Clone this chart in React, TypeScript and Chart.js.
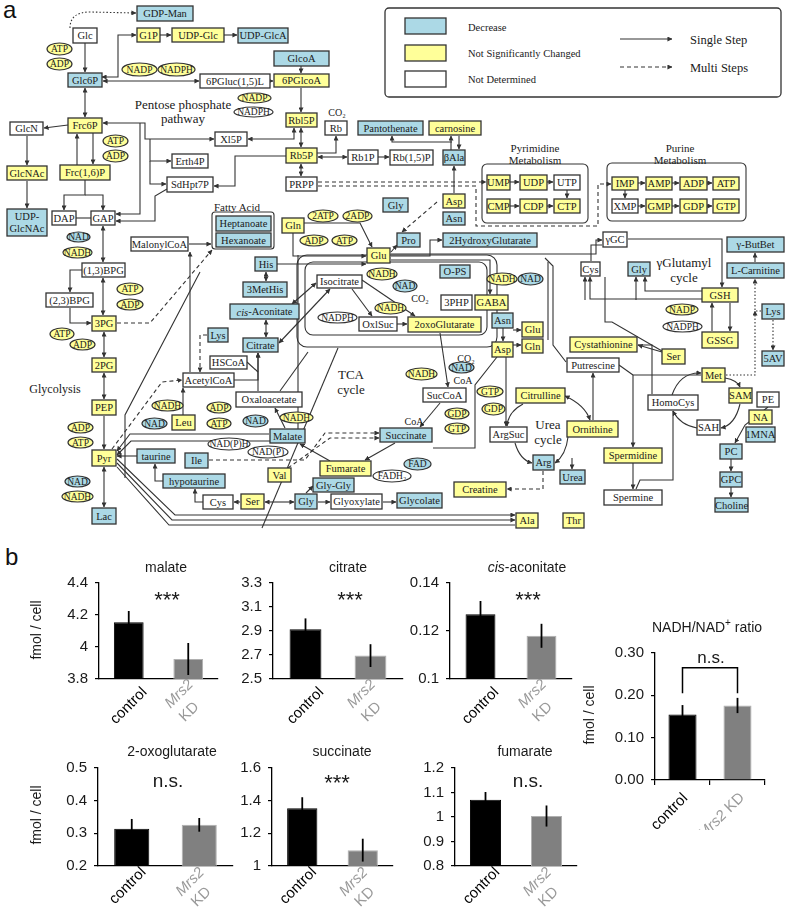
import React, { useEffect, useRef } from "react";
import { Chart, registerables } from "chart.js";
Chart.register(...registerables);

// ---------------- data (part b) ----------------
const GROUPS = ["control", "Mrs2 KD"];
const MALATE = [4.155, 3.925];
const MALATE_ERR = [0.07, 0.1];
const CITRATE = [2.915, 2.695];
const CITRATE_ERR = [0.09, 0.095];
const CIS_ACONITATE = [0.127, 0.118];
const CIS_ACONITATE_ERR = [0.0055, 0.005];
const OXOGLUTARATE = [0.314, 0.326];
const OXOGLUTARATE_ERR = [0.03, 0.021];
const SUCCINATE = [1.353, 1.097];
const SUCCINATE_ERR = [0.068, 0.07];
const FUMARATE = [1.07, 1.004];
const FUMARATE_ERR = [0.032, 0.043];
const NADH_RATIO = [0.155, 0.176];
const NADH_RATIO_ERR = [0.022, 0.018];
const Y_TITLE = "fmol / cell";

const SANS = '"Liberation Sans", Arial, Helvetica, sans-serif';
const SERIF = '"Liberation Serif", "Times New Roman", serif';

type Part = { t: string; i?: boolean; sup?: boolean };

function drawParts(ctx: CanvasRenderingContext2D, parts: Part[], x: number, y: number, size: number, color: string) {
  const fontOf = (p: Part) => `${p.i ? "italic " : ""}${p.sup ? Math.round(size * 0.7) : size}px ${SANS}`;
  let total = 0;
  const ws = parts.map((p) => {
    ctx.font = fontOf(p);
    const w = ctx.measureText(p.t).width;
    total += w;
    return w;
  });
  let cx = x - total / 2;
  ctx.textAlign = "left";
  ctx.textBaseline = "middle";
  ctx.fillStyle = color;
  parts.forEach((p, k) => {
    ctx.font = fontOf(p);
    ctx.fillText(p.t, cx, p.sup ? y - size * 0.35 : y);
    cx += ws[k];
  });
}

function drawRot(ctx: CanvasRenderingContext2D, parts: Part[], x: number, y: number, size: number, color: string, ang: number) {
  ctx.save();
  ctx.translate(x, y);
  ctx.rotate(ang);
  drawParts(ctx, parts, 0, 0, size, color);
  ctx.restore();
}

type LabelPos = { ctrl: [number, number]; l1: [number, number]; l2?: [number, number] };
const ROW1: LabelPos = { ctrl: [0, 27], l1: [-9, 15], l2: [1, 33] };
const ROW2: LabelPos = { ctrl: [-4, 20], l1: [-9, 16], l2: [2, 31] };
const ONELINE: LabelPos = { ctrl: [-13, 32], l1: [-16, 36] };

interface PanelCfg {
  values: number[];
  errors: number[];
  min: number;
  max: number;
  step: number;
  fixed?: number;
  x0: number;
  x1: number;
  y0: number;
  y1: number;
  title: Part[];
  tx: number;
  ty: number;
  sig: string;
  sx: number;
  sb: number;
  sSize: number;
  yTitle?: [number, number];
  bracket?: [number, number];
  xTicks?: boolean;
  lab: LabelPos;
  bottom: number;
  bar: number;
}

const PANELS: PanelCfg[] = [
  { values: MALATE, errors: MALATE_ERR, min: 3.8, max: 4.4, step: 0.2, x0: 99, x1: 218, y0: 583, y1: 679,
    title: [{ t: "malate" }], tx: 166, ty: 568, sig: "***", sx: 167, sb: 607, sSize: 22, yTitle: [37, 630], lab: ROW1, bottom: 50, bar: 0.5 },
  { values: CITRATE, errors: CITRATE_ERR, min: 2.5, max: 3.3, step: 0.2, x0: 273, x1: 403, y0: 583, y1: 679,
    title: [{ t: "citrate" }], tx: 348, ty: 568, sig: "***", sx: 350, sb: 607, sSize: 22, lab: ROW1, bottom: 50, bar: 0.49 },
  { values: CIS_ACONITATE, errors: CIS_ACONITATE_ERR, min: 0.1, max: 0.14, step: 0.02, x0: 450, x1: 572, y0: 583, y1: 679,
    title: [{ t: "cis", i: true }, { t: "-aconitate" }], tx: 527, ty: 568, sig: "***", sx: 528, sb: 607, sSize: 22, lab: ROW1, bottom: 50, bar: 0.49 },
  { values: NADH_RATIO, errors: NADH_RATIO_ERR, min: 0, max: 0.3, step: 0.1, fixed: 2, x0: 655, x1: 765, y0: 653, y1: 780,
    title: [{ t: "NADH/NAD" }, { t: "+", sup: true }, { t: " ratio" }], tx: 707, ty: 628, sig: "n.s.", sx: 711, sb: 663, sSize: 17,
    yTitle: [590, 715], bracket: [0.265, 0.205], xTicks: true, lab: ONELINE, bottom: 50, bar: 0.51 },
  { values: OXOGLUTARATE, errors: OXOGLUTARATE_ERR, min: 0.2, max: 0.5, step: 0.1, x0: 98, x1: 233, y0: 768, y1: 866,
    title: [{ t: "2-oxoglutarate" }], tx: 172, ty: 752, sig: "n.s.", sx: 168, sb: 787, sSize: 19, yTitle: [37, 815], lab: ROW2, bottom: 45, bar: 0.52 },
  { values: SUCCINATE, errors: SUCCINATE_ERR, min: 1, max: 1.6, step: 0.2, x0: 272, x1: 393, y0: 768, y1: 866,
    title: [{ t: "succinate" }], tx: 342, ty: 752, sig: "***", sx: 337, sb: 790, sSize: 22, lab: ROW2, bottom: 45, bar: 0.5 },
  { values: FUMARATE, errors: FUMARATE_ERR, min: 0.8, max: 1.2, step: 0.1, x0: 455, x1: 577, y0: 768, y1: 866,
    title: [{ t: "fumarate" }], tx: 525, ty: 752, sig: "n.s.", sx: 528, sb: 787, sSize: 19, lab: ROW2, bottom: 45, bar: 0.51 },
];

const PAD_TOP = 40;
const Y_W = 80;
const PAD_R = 15;

function BarPanel({ cfg }: { cfg: PanelCfg }) {
  const ref = useRef<HTMLCanvasElement>(null);
  const ox = cfg.x0 - Y_W;
  const oy = cfg.y0 - PAD_TOP;
  const cw = cfg.x1 - ox + PAD_R;
  const ch = PAD_TOP + (cfg.y1 - cfg.y0) + cfg.bottom;
  useEffect(() => {
    const overlay = {
      id: "overlay",
      afterDatasetsDraw(chart: any) {
        const ctx = chart.ctx as CanvasRenderingContext2D;
        const xs = chart.scales.x;
        const ys = chart.scales.y;
        ctx.save();
        ctx.strokeStyle = "#000";
        ctx.lineWidth = 1.8;
        cfg.values.forEach((v, i) => {
          const x = xs.getPixelForValue(i);
          ctx.beginPath();
          ctx.moveTo(x, ys.getPixelForValue(v + cfg.errors[i]));
          ctx.lineTo(x, ys.getPixelForValue(v - cfg.errors[i]));
          ctx.stroke();
        });
        ctx.restore();
      },
      afterDraw(chart: any) {
        const ctx = chart.ctx as CanvasRenderingContext2D;
        const xs = chart.scales.x;
        const ys = chart.scales.y;
        ctx.save();
        drawParts(ctx, cfg.title, cfg.tx - ox, cfg.ty - oy, 14, "#1a1a1a");
        ctx.font = `${cfg.sSize}px ${SANS}`;
        ctx.textAlign = "center";
        ctx.textBaseline = "alphabetic";
        ctx.fillStyle = "#1a1a1a";
        ctx.fillText(cfg.sig, cfg.sx - ox, cfg.sb - oy);
        if (cfg.yTitle) {
          drawRot(ctx, [{ t: Y_TITLE }], cfg.yTitle[0] - ox, cfg.yTitle[1] - oy, 14, "#1a1a1a", -Math.PI / 2);
        }
        if (cfg.bracket) {
          const xa = xs.getPixelForValue(0);
          const xb = xs.getPixelForValue(1);
          const yt = ys.getPixelForValue(cfg.bracket[0]);
          const yl = ys.getPixelForValue(cfg.bracket[1]);
          ctx.strokeStyle = "#000";
          ctx.lineWidth = 1.5;
          ctx.beginPath();
          ctx.moveTo(xa, yl);
          ctx.lineTo(xa, yt);
          ctx.lineTo(xb, yt);
          ctx.lineTo(xb, yl);
          ctx.stroke();
        }
        const base = chart.chartArea.bottom;
        const c0 = xs.getPixelForValue(0);
        const c1 = xs.getPixelForValue(1);
        const ang = -Math.PI / 4;
        drawRot(ctx, [{ t: GROUPS[0] }], c0 + cfg.lab.ctrl[0], base + cfg.lab.ctrl[1], 15, "#000", ang);
        if (cfg.lab.l2) {
          drawRot(ctx, [{ t: "Mrs2", i: true }], c1 + cfg.lab.l1[0], base + cfg.lab.l1[1], 15, "#9a9a9a", ang);
          drawRot(ctx, [{ t: "KD" }], c1 + cfg.lab.l2[0], base + cfg.lab.l2[1], 15, "#9a9a9a", ang);
        } else {
          drawRot(ctx, [{ t: "Mrs2", i: true }, { t: " KD" }], c1 + cfg.lab.l1[0], base + cfg.lab.l1[1], 15, "#9a9a9a", ang);
        }
        ctx.restore();
      },
    };
    const chart = new Chart(ref.current as HTMLCanvasElement, {
      type: "bar",
      data: {
        labels: GROUPS,
        datasets: [
          {
            data: cfg.values,
            backgroundColor: ["#000000", "#808080"],
            borderColor: ["#000000", "#b0b0b0"],
            borderWidth: 1,
            barPercentage: cfg.bar,
            categoryPercentage: 1,
          },
        ],
      },
      options: {
        animation: false,
        responsive: false,
        maintainAspectRatio: false,
        layout: { padding: { top: PAD_TOP, right: PAD_R, bottom: 0, left: 0 } },
        plugins: { legend: { display: false }, tooltip: { enabled: false }, title: { display: false } },
        scales: {
          x: {
            type: "category",
            offset: true,
            grid: { display: !!cfg.xTicks, drawOnChartArea: false, tickLength: 5, color: "#000", offset: true, lineWidth: 1.2 },
            border: { display: true, color: "#000", width: 1.3 },
            ticks: { display: false },
            afterFit: (s: any) => {
              s.height = cfg.bottom;
            },
          },
          y: {
            min: cfg.min,
            max: cfg.max,
            grid: { display: true, drawOnChartArea: false, tickLength: 4, color: "#000", lineWidth: 1.2 },
            border: { display: true, color: "#000", width: 1.3 },
            ticks: {
              stepSize: cfg.step,
              padding: 7,
              color: "#1a1a1a",
              font: { family: SANS, size: 15 },
              callback: (v: any) => (cfg.fixed ? Number(v).toFixed(cfg.fixed) : String(parseFloat(Number(v).toFixed(4)))),
            },
            afterFit: (s: any) => {
              s.width = Y_W;
            },
          },
        },
      } as any,
      plugins: [overlay as any],
    });
    return () => chart.destroy();
  }, []);
  return (
    <canvas
      ref={ref}
      width={cw}
      height={ch}
      style={{ position: "absolute", left: ox, top: oy, width: cw, height: ch }}
    />
  );
}

// ---------------- pathway diagram (part a) ----------------
const BLUE = "#acd9e6";
const YEL = "#ffff99";
type N = [string, string, number, number, number, number];
const NODES: N[] = [
  ["GDP-Man", "b", 137, 6, 193, 21], ["Glc", "w", 73, 28, 97, 43], ["G1P", "y", 137, 28, 160, 42],
  ["UDP-Glc", "y", 172, 28, 224, 42], ["UDP-GlcA", "b", 238, 28, 288, 43], ["Glc6P", "b", 68, 73, 102, 87],
  ["6PGluc(1,5)L", "w", 200, 74, 270, 88], ["GlcoA", "b", 274, 51, 329, 66], ["6PGlcoA", "y", 274, 74, 329, 87],
  ["Rbl5P", "y", 286, 113, 317, 127], ["Rb", "w", 325, 121, 347, 135], ["Xl5P", "w", 215, 132, 247, 146],
  ["Rb5P", "y", 286, 148, 317, 163], ["Rb1P", "w", 348, 150, 378, 164], ["Rb(1,5)P", "w", 390, 150, 433, 165],
  ["Pantothenate", "b", 358, 121, 423, 135], ["carnosine", "y", 429, 121, 481, 135], ["βAla", "b", 443, 150, 465, 165],
  ["PRPP", "w", 286, 177, 317, 191], ["Erth4P", "w", 172, 154, 208, 168], ["SdHpt7P", "w", 167, 177, 213, 192],
  ["GlcN", "w", 10, 122, 43, 135], ["Frc6P", "y", 68, 118, 102, 133], ["Frc(1,6)P", "y", 60, 165, 110, 180],
  ["GlcNAc", "y", 7, 166, 47, 180], ["UDP-\nGlcNAc", "b", 7, 209, 47, 236], ["DAP", "w", 52, 211, 76, 225],
  ["GAP", "w", 91, 211, 115, 225], ["(1,3)BPG", "w", 82, 263, 125, 277], ["MalonylCoA", "w", 131, 237, 188, 251],
  ["Heptanoate", "b", 216, 216, 271, 231], ["Hexanoate", "b", 216, 233, 271, 247], ["Gln", "y", 282, 218, 304, 233],
  ["Glu", "y", 367, 248, 390, 263], ["His", "b", 255, 257, 277, 271], ["Isocitrate", "w", 317, 275, 362, 288],
  ["UMP", "y", 487, 175, 510, 190], ["UDP", "y", 520, 175, 547, 190], ["UTP", "w", 554, 175, 580, 190],
  ["CMP", "y", 487, 199, 510, 213], ["CDP", "y", 520, 199, 547, 213], ["CTP", "y", 554, 199, 580, 213],
  ["Gly", "b", 383, 198, 408, 212], ["Asp", "y", 443, 194, 465, 208], ["Asn", "b", 443, 212, 465, 225],
  ["Pro", "b", 397, 233, 420, 247], ["2HydroxyGlutarate", "b", 443, 233, 537, 247], ["O-PS", "b", 440, 265, 470, 278],
  ["γGC", "w", 603, 232, 627, 247],
  ["IMP", "y", 612, 177, 638, 190], ["AMP", "y", 646, 177, 672, 190], ["ADP", "y", 680, 177, 707, 190], ["ATP", "y", 713, 177, 739, 190],
  ["XMP", "w", 612, 199, 638, 213], ["GMP", "y", 646, 199, 672, 213], ["GDP", "y", 680, 199, 707, 213], ["GTP", "y", 713, 199, 739, 213],
  ["γ-ButBet", "b", 727, 237, 784, 252], ["L-Carnitine", "b", 727, 263, 784, 278], ["Gly", "b", 628, 262, 650, 276],
  ["Cys", "w", 581, 262, 600, 276], ["(2,3)BPG", "w", 46, 293, 93, 307], ["3PG", "y", 92, 316, 116, 331],
  ["2PG", "y", 92, 358, 116, 372], ["PEP", "y", 92, 400, 116, 415], ["Pyr", "y", 92, 450, 116, 466],
  ["Lac", "b", 92, 508, 116, 524], ["AcetylCoA", "w", 183, 373, 234, 387], ["Leu", "y", 172, 415, 195, 430],
  ["taurine", "b", 137, 449, 175, 463], ["hypotaurine", "b", 163, 474, 225, 488], ["Ile", "b", 185, 453, 208, 468],
  ["3MetHis", "b", 243, 282, 287, 297], ["cis-Aconitate", "b", 230, 304, 299, 319], ["Citrate", "b", 243, 338, 278, 352],
  ["Lys", "b", 208, 328, 228, 342], ["HSCoA", "w", 210, 356, 247, 369], ["Oxaloacetate", "w", 236, 392, 302, 407],
  ["Malate", "b", 270, 429, 305, 443], ["OxlSuc", "w", 359, 317, 397, 331], ["Val", "y", 268, 468, 291, 482],
  ["Fumarate", "y", 320, 461, 371, 476], ["Gly-Gly", "b", 313, 478, 354, 492], ["Gly", "b", 295, 494, 317, 509],
  ["Glyoxylate", "w", 331, 494, 382, 509], ["Ser", "y", 241, 494, 264, 509], ["Cys", "w", 203, 495, 233, 509],
  ["Succinate", "b", 380, 428, 432, 442], ["2oxoGlutarate", "y", 408, 317, 481, 332], ["3PHP", "w", 441, 295, 472, 310],
  ["GABA", "y", 475, 295, 508, 310], ["Asn", "b", 492, 313, 513, 328], ["Glu", "y", 522, 322, 543, 337],
  ["Gln", "y", 522, 339, 543, 353], ["Asp", "y", 492, 342, 513, 357], ["SucCoA", "w", 423, 388, 466, 402],
  ["Citrulline", "y", 516, 388, 565, 403], ["ArgSuc", "w", 490, 427, 527, 442], ["Arg", "b", 533, 455, 554, 470],
  ["Urea", "b", 560, 470, 585, 484], ["Creatine", "y", 454, 482, 506, 497], ["Glycolate", "b", 397, 493, 442, 508],
  ["Ala", "y", 516, 513, 538, 528], ["Thr", "y", 563, 513, 584, 528], ["Ornithine", "y", 567, 421, 618, 437],
  ["Cystathionine", "y", 570, 337, 637, 352], ["Putrescine", "w", 567, 358, 619, 372], ["GSH", "y", 702, 288, 738, 302],
  ["GSSG", "y", 702, 332, 738, 348], ["Lys", "b", 762, 304, 784, 319], ["5AV", "b", 762, 351, 784, 366],
  ["Ser", "y", 662, 349, 685, 364], ["Met", "y", 702, 368, 725, 382], ["SAM", "y", 729, 388, 752, 403],
  ["PE", "w", 757, 392, 779, 407], ["NA", "y", 749, 410, 772, 424], ["1MNA", "b", 746, 427, 775, 442],
  ["HomoCys", "w", 648, 395, 698, 410], ["SAH", "w", 697, 420, 720, 435], ["PC", "b", 720, 444, 742, 459],
  ["GPC", "b", 720, 472, 742, 487], ["Choline", "b", 715, 498, 748, 512], ["Spermidine", "y", 604, 448, 662, 463],
  ["Spermine", "w", 604, 490, 662, 505],
  // cofactors (ellipses)
  ["ATP", "Y", 47, 43, 72, 55], ["ADP", "Y", 47, 58, 72, 70], ["NADP", "Y", 122, 63, 157, 76], ["NADPH", "Y", 158, 63, 195, 76],
  ["NADP", "Y", 238, 93, 271, 103], ["NADPH", "W", 234, 107, 273, 117], ["ATP", "Y", 103, 135, 128, 147], ["ADP", "Y", 103, 150, 128, 162],
  ["NAD", "B", 67, 232, 90, 242], ["NADH", "Y", 63, 247, 92, 258], ["2ATP", "Y", 308, 210, 338, 222], ["2ADP", "Y", 343, 210, 372, 222],
  ["ADP", "Y", 300, 235, 328, 246], ["ATP", "Y", 332, 235, 357, 246], ["NADH", "Y", 487, 273, 517, 285], ["NAD", "B", 518, 273, 543, 285],
  ["ATP", "Y", 117, 283, 143, 295], ["ADP", "Y", 117, 299, 143, 310], ["ATP", "Y", 50, 328, 74, 340], ["ADP", "Y", 70, 339, 95, 350],
  ["ADP", "Y", 68, 422, 93, 433], ["ATP", "Y", 68, 437, 93, 448], ["NAD", "B", 65, 476, 90, 487], ["NADH", "Y", 62, 491, 93, 502],
  ["NADH", "Y", 152, 400, 183, 411], ["NAD", "B", 142, 418, 167, 429], ["ADP", "Y", 207, 402, 231, 413], ["ATP", "Y", 207, 418, 231, 429],
  ["NAD", "B", 243, 415, 268, 427], ["NADH", "Y", 280, 412, 313, 423], ["NAD(P)H", "W", 208, 438, 250, 450], ["NAD(P)", "W", 248, 446, 288, 458],
  ["NADPH", "W", 318, 312, 357, 323], ["NADH", "Y", 367, 268, 397, 280], ["NAD", "B", 393, 280, 417, 292], ["NADH", "Y", 375, 302, 406, 314],
  ["NAD", "B", 449, 362, 474, 373], ["NADH", "Y", 406, 368, 437, 380], ["GDP", "Y", 445, 408, 469, 419], ["GTP", "Y", 445, 423, 469, 434],
  ["GTP", "Y", 477, 386, 503, 397], ["GDP", "Y", 482, 403, 505, 415], ["FAD", "B", 404, 458, 431, 470], ["FADH₂", "W", 373, 470, 411, 482],
  ["NADP", "Y", 666, 304, 698, 315], ["NADPH", "W", 663, 321, 702, 332],
];

// [geometry, style]  s: arrow, d: double arrow, n: plain, D: dashed arrow, o: dotted arrow
type E = [string, string];
const EDGES: E[] = [
  ["85,43 85,72", "s"], ["85,88 85,117", "d"], ["93,133 93,164", "s"], ["77,165 77,134", "s"],
  ["85,180 85,195 64,195 64,210", "s"], ["85,195 103,195 103,210", "s"], ["76,218 91,218", "n"],
  ["103,226 103,262", "d"], ["103,278 103,315", "d"], ["82,270 70,270 70,292", "s"], ["70,308 70,323 91,323", "s"],
  ["104,332 104,357", "d"], ["104,373 104,399", "d"], ["104,416 104,449", "s"], ["104,467 104,507", "d"],
  ["102,77 118,77 118,35 136,35", "d"], ["160,35 171,35", "s"], ["224,35 237,35", "s"], ["103,81 199,81", "d"],
  ["270,81 273,81", "s"], ["301,66 301,73", "s"], ["301,88 301,112", "s"], ["301,128 301,147", "d"], ["301,164 301,176", "d"],
  ["317,153 336,153 336,136", "s"], ["318,157 347,157", "d"], ["378,157 389,157", "s"], ["248,139 294,139 294,128", "d"],
  ["103,123 145,123 145,139 214,139", "d"], ["150,139 150,161 171,161", "s"], ["150,161 150,184 166,184", "s"],
  ["286,156 235,156 235,186 214,186", "s"], ["140,123 140,214 116,214", "s"], ["167,189 155,196 155,221 116,221", "s"],
  ["68,125 44,128", "s"], ["27,136 27,165", "s"], ["27,181 27,208", "s"],
  ["318,182 486,182", "D"], ["318,186 476,186 476,226 598,226 598,184 611,184", "D"],
  ["454,193 454,166", "s"], ["451,150 451,136", "s"], ["459,136 459,149", "s"], ["452,142 392,142 392,136", "s"],
  ["510,182 519,182", "s"], ["547,182 553,182", "s"], ["567,190 567,198", "s"], ["510,206 519,206", "s"], ["547,206 553,206", "s"],
  ["638,183 645,183", "s"], ["672,183 679,183", "s"], ["707,183 712,183", "s"], ["625,190 625,198", "s"],
  ["638,206 645,206", "s"], ["672,206 679,206", "s"], ["707,206 712,206", "s"],
  ["755,262 755,253", "s"], ["761,311 755,311 755,279", "o"], ["773,320 773,350", "o"], ["726,375 755,375 755,311", "o"],
  ["712,331 712,303", "s"], ["730,303 730,331", "s"],
  ["M672,395 Q680,372 701,373", "s"], ["M725,378 Q737,380 740,387", "s"], ["M740,404 Q735,425 721,428", "s"], ["M697,428 Q680,425 673,411", "s"],
  ["768,407 745,425 735,443", "s"], ["731,459 731,471", "s"], ["731,487 731,497", "s"],
  ["701,375 633,375 633,447", "s"], ["619,365 633,375", "n"], ["633,463 633,489", "s"], ["673,411 673,480 640,480 636,489", "n"],
  ["593,420 593,373", "s"], ["662,352 638,345", "s"], ["652,394 652,345 638,345", "n"],
  ["M523,404 Q508,412 507,426", "s"], ["M515,443 Q520,460 532,463", "s"], ["M568,437 Q566,455 555,463", "s"], ["M565,396 Q585,405 590,420", "d"],
  ["572,458 572,469", "s"], ["543,471 543,489 507,489", "D"], ["506,357 506,426", "s"], ["503,328 503,341", "s"],
  ["497,357 475,385 475,448 433,448", "n"], ["513,330 521,330", "s"], ["513,345 521,345", "s"],
  ["234,380 258,380 258,353", "s"], ["258,391 258,353", "s"], ["266,337 266,320", "d"], ["292,304 316,283", "d"],
  ["279,343 330,289", "d"], ["352,289 372,316", "s"], ["397,324 407,324", "s"], ["362,280 415,316", "s"],
  ["440,333 448,387", "s"], ["440,403 420,427", "s"], ["395,443 365,460", "s"], ["330,461 300,444", "s"],
  ["285,428 275,408", "s"], ["247,362 258,372", "n"],
  ["304,223 360,223 372,247", "s"], ["293,233 293,256 366,256", "s"], ["277,264 366,264", "s"], ["266,272 266,281", "d"],
  ["391,252 397,245", "s"], ["391,256 430,256 430,240 442,240", "s"], ["391,260 490,260 490,294", "s"],
  ["391,254 596,254 596,240 602,240", "s"], ["628,239 722,239 722,287", "s"], ["591,261 591,245 602,245", "n"],
  ["702,291 645,291 645,277", "s"], ["702,299 590,299 590,277", "s"], ["636,300 636,277", "s"], ["585,300 585,277", "s"],
  ["662,351 612,322 605,322 605,277", "n"], ["545,258 553,266 553,345 566,362", "n"], ["548,262 548,340", "n"],
  ["190,372 190,252", "s"], ["189,244 211,244", "s"], ["183,415 183,388", "s"], ["207,335 200,335 200,372", "D"],
  ["117,323 150,323 212,250", "D"], ["112,449 162,382 182,380", "D"],
  ["137,456 117,456", "s"], ["163,481 155,481 155,464", "s"], ["203,502 195,502 195,489", "s"], ["240,502 234,502", "s"],
  ["265,502 294,502", "d"], ["306,493 313,486", "s"], ["318,502 330,502", "s"], ["383,502 396,502", "s"],
  ["209,460 305,460 325,433 379,433", "D"], ["288,468 330,438 379,438", "D"],
  ["269,434 130,434 117,451", "s"], ["298,255 298,441 131,441 117,455", "s"],
  ["117,459 175,515 515,515", "s"], ["117,463 172,520 515,520", "s"], ["117,467 169,525 515,525", "n"],
  ["125,478 125,415 200,272", "n"], ["262,528 338,348", "n"], ["280,391 308,352", "n"],
  ["437,202 402,232", "D"], ["M70,28 Q70,12 90,12 L136,13", "o"],
  ["620,39 672,39", "s"], ["620,67 672,67", "D"],
];

const TEXTS: [string, number, number, number, string?][] = [
  ["Pentose phosphate", 183, 104, 13], ["pathway", 183, 118, 13], ["Fatty Acid", 237, 207, 11],
  ["Pyrimidine", 535, 148, 11], ["Metabolism", 535, 160, 11], ["Purine", 680, 148, 11], ["Metabolism", 680, 160, 11],
  ["Glycolysis", 55, 389, 12], ["TCA", 351, 374, 13], ["cycle", 351, 389, 13], ["Urea", 548, 424, 13], ["cycle", 548, 439, 13],
  ["γGlutamyl", 684, 262, 13], ["cycle", 684, 277, 13], ["CO₂", 337, 112, 10], ["CO₂", 420, 298, 10], ["CO₂", 466, 358, 10],
  ["CoA", 463, 380, 10], ["CoA", 414, 421, 10],
  ["Decrease", 468, 27, 10.5, "start"], ["Not Significantly Changed", 468, 53, 10.5, "start"], ["Not Determined", 468, 79, 10.5, "start"],
  ["Single Step", 690, 40, 12.5, "start"], ["Multi Steps", 690, 68, 12.5, "start"],
];

function Diagram() {
  const fillOf: Record<string, string> = { b: BLUE, B: BLUE, y: YEL, Y: YEL, w: "#fff", W: "#fff" };
  return (
    <svg width={787} height={560} style={{ position: "absolute", left: 0, top: 0 }} fontFamily={SERIF}>
      <defs>
        <marker id="ah" viewBox="0 0 6 6" refX="5.5" refY="3" markerWidth="5" markerHeight="5" orient="auto-start-reverse" markerUnits="userSpaceOnUse">
          <path d="M0,0 L6,3 L0,6 z" fill="#333" />
        </marker>
      </defs>
      <text x={3} y={18} fontFamily={SANS} fontSize={24} fill="#111">a</text>
      {/* legend */}
      <rect x={385} y={8} width={396} height={89} rx={4} fill="#fff" stroke="#333" strokeWidth={1.3} />
      <rect x={405} y={18} width={41} height={16} fill={BLUE} stroke="#333" strokeWidth={1.3} />
      <rect x={405} y={45} width={41} height={16} fill={YEL} stroke="#333" strokeWidth={1.3} />
      <rect x={405} y={71} width={41} height={16} fill="#fff" stroke="#333" strokeWidth={1.3} />
      {/* group boxes */}
      <rect x={212} y={212} width={62} height={37} rx={3} fill="none" stroke="#333" strokeWidth={1.1} />
      <rect x={482} y={164} width={106} height={59} rx={5} fill="none" stroke="#333" strokeWidth={1.1} />
      <rect x={607} y={163} width={139} height={58} rx={5} fill="none" stroke="#333" strokeWidth={1.1} />
      <rect x={305} y={262} width={182} height={73} rx={8} fill="none" stroke="#333" strokeWidth={1.1} />
      <rect x={297} y={255} width={200} height={92} rx={10} fill="none" stroke="#333" strokeWidth={1.1} />
      {EDGES.map(([g, st], i) => {
        const common: any = {
          fill: "none",
          stroke: "#333",
          strokeWidth: 1.1,
          strokeDasharray: st === "D" ? "4 3" : st === "o" ? "1.5 2" : undefined,
          markerEnd: st === "n" ? undefined : "url(#ah)",
          markerStart: st === "d" ? "url(#ah)" : undefined,
        };
        return g.startsWith("M") ? <path key={i} d={g} {...common} /> : <polyline key={i} points={g} {...common} />;
      })}
      {NODES.map((n, i) => {
        const [label, k, x1, y1, x2, y2] = n;
        const ell = k === "B" || k === "Y" || k === "W";
        const cx = (x1 + x2) / 2;
        const cy = (y1 + y2) / 2;
        const lines = label.split("\n");
        const fs = ell ? 9.5 : 10.5;
        return (
          <g key={i}>
            {ell ? (
              <ellipse cx={cx} cy={cy} rx={(x2 - x1) / 2} ry={(y2 - y1) / 2} fill={fillOf[k]} stroke="#333" strokeWidth={1.2} />
            ) : (
              <rect x={x1} y={y1} width={x2 - x1} height={y2 - y1} fill={fillOf[k]} stroke="#333" strokeWidth={1.3} />
            )}
            {lines.map((l, j) => (
              <text key={j} x={cx} y={cy + (j - (lines.length - 1) / 2) * 12} textAnchor="middle" dominantBaseline="central" fontSize={fs} fill="#1a1a1a">
                {l.startsWith("cis-") ? (
                  <>
                    <tspan fontStyle="italic">cis</tspan>
                    {l.slice(3)}
                  </>
                ) : (
                  l
                )}
              </text>
            ))}
          </g>
        );
      })}
      {TEXTS.map(([t, x, y, s, a], i) => (
        <text key={i} x={x} y={y} textAnchor={a || "middle"} dominantBaseline="central" fontSize={s} fill="#1a1a1a">
          {t}
        </text>
      ))}
    </svg>
  );
}

export default function App() {
  return (
    <div style={{ position: "fixed", left: 0, top: 0, width: 787, height: 911, overflow: "hidden", background: "#fff" }}>
      <Diagram />
      <div style={{ position: "absolute", left: 5, top: 545, fontFamily: SANS, fontSize: 24, color: "#111", lineHeight: "24px" }}>b</div>
      {PANELS.map((p, i) => (
        <BarPanel key={i} cfg={p} />
      ))}
    </div>
  );
}
